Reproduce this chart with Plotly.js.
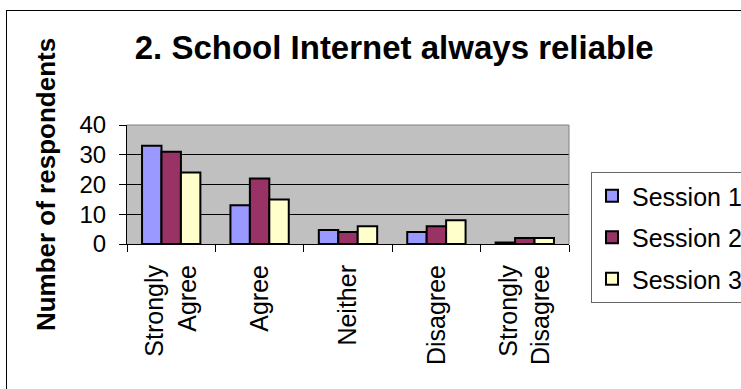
<!DOCTYPE html>
<html>
<head>
<meta charset="utf-8">
<script src="https://cdn.plot.ly/plotly-3.0.1.min.js"></script>
<style>
  html, body { margin: 0; padding: 0; background: #fff; overflow: hidden; }
  #chart { width: 741px; height: 389px; position: absolute; left: 0; top: 0; }
  #frame { position: absolute; left: 6px; top: 10px; width: 800px; height: 500px;
           border: 1px solid #000; pointer-events: none; }
</style>
</head>
<body>
<div id="chart"></div>
<div id="frame"></div>
<script>
const categories = ["Strongly<br>Agree", "Agree", "Neither", "Disagree", "Strongly<br>Disagree"];
const seriesNames = ["Session 1", "Session 2", "Session 3"];
const session1 = [33, 13, 4.7, 4, 0.5];
const session2 = [31, 22, 4, 6, 2];
const session3 = [24, 15, 6, 8, 2];
const seriesColors = ["#9999FF", "#993366", "#FFFFCC"];
const yTicks = [0, 10, 20, 30, 40];

const FONT = "Liberation Sans, Arial, sans-serif";
const values = [session1, session2, session3];

const traces = values.map((v, i) => ({
  type: "bar",
  name: seriesNames[i],
  x: categories,
  y: v,
  legendgroup: "g" + i,
  marker: { color: seriesColors[i], line: { color: "#000", width: 2 } },
  hoverinfo: "skip"
}));

const layout = {
  width: 741,
  height: 389,
  margin: { l: 127, r: 172, t: 125, b: 145, pad: 0 },
  paper_bgcolor: "#ffffff",
  plot_bgcolor: "#C0C0C0",
  barmode: "group",
  bargap: 0.34,
  bargroupgap: 0,
  font: { family: FONT, color: "#000" },
  title: {
    text: "2. School Internet always reliable",
    font: { family: FONT, size: 33, weight: 700, color: "#000" },
    xref: "container", x: 0.532, xanchor: "center",
    yref: "container", y: 0.878, yanchor: "middle"
  },
  xaxis: {
    type: "category",
    showgrid: false,
    showline: true, linecolor: "#000", linewidth: 1,
    ticks: "outside", ticklen: 7, tickcolor: "#000", tickson: "boundaries",
    tickangle: -90,
    ticklabelstandoff: 10,
    tickfont: { family: FONT, size: 25, color: "#000" },
    fixedrange: true
  },
  yaxis: {
    range: [0, 40],
    tickvals: yTicks,
    showgrid: true, gridcolor: "#000", gridwidth: 1,
    zeroline: false,
    showline: true, linecolor: "#000", linewidth: 1,
    ticks: "outside", ticklen: 7, tickcolor: "#000",
    ticklabelstandoff: 8,
    tickfont: { family: FONT, size: 24, color: "#000" },
    title: { text: "Number of respondents", font: { family: FONT, size: 26, weight: 700, color: "#000" }, standoff: 16 },
    fixedrange: true
  },
  shapes: [{
    type: "path", xref: "paper", yref: "paper",
    path: "M 0,1 L 1,1 L 1,0",
    line: { color: "#808080", width: 1 }, layer: "above"
  }],
  showlegend: true,
  legend: {
    xref: "container", yref: "container",
    x: 591 / 741, xanchor: "left",
    y: 1 - 172 / 389, yanchor: "top",
    bgcolor: "#fff", bordercolor: "#666", borderwidth: 1,
    font: { family: FONT, size: 25, color: "#000" },
    traceorder: "grouped", tracegroupgap: 6,
    itemwidth: 30
  }
};

Plotly.newPlot("chart", traces, layout, { staticPlot: true, displayModeBar: false });
</script>
</body>
</html>
